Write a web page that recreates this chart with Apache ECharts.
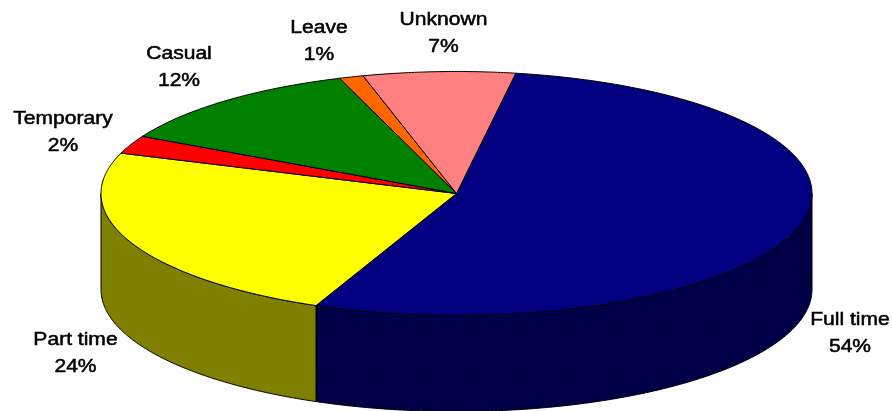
<!DOCTYPE html>
<html>
<head>
<meta charset="utf-8">
<style>html,body{margin:0;padding:0;background:#fff}#c{width:893px;height:411px}</style>
<script src="https://cdn.jsdelivr.net/npm/echarts@6/dist/echarts.min.js"></script>
</head>
<body>
<div id="c"></div>
<script>
// Data (clockwise from the Full time slice)
const categories = ['Full time', 'Part time', 'Temporary', 'Casual', 'Leave', 'Unknown'];
const shares = [53.8, 23.9, 2.4, 11.9, 1.1, 6.9];

// Styling
const topColors = ['#000080', '#FFFF00', '#FF0000', '#008000', '#FF6600', '#FF8080'];
const wallColors = ['navyMesh', '#808000', '#800000', '#004000', '#803300', '#804040'];
// Geometry of the tilted pie
const CX = 456.5, CY = 193.5, RX = 355.5, RY = 122, DEPTH = 96, START_DEG = 9.6;
// Label block centres, by category
const labelPos = {
  'Full time': [850, 333.5], 'Part time': [75.5, 353.5], 'Temporary': [63, 132.5],
  'Casual': [179, 67.5], 'Leave': [319, 42], 'Unknown': [443.5, 33.5]
};

const mesh = document.createElement('canvas');
mesh.width = 3; mesh.height = 3;
const m = mesh.getContext('2d');
m.fillStyle = '#00005c'; m.fillRect(0, 0, 3, 3);
m.fillStyle = '#000036'; m.fillRect(0, 2, 3, 1); m.fillRect(2, 0, 1, 3);
const navyMesh = { image: mesh, repeat: 'repeat' };

const total = shares.reduce((a, b) => a + b, 0);
const rad = d => d * Math.PI / 180;
const pt = (deg, dy) => [CX + RX * Math.sin(rad(deg)), CY - RY * Math.cos(rad(deg)) + (dy || 0)];
function arc(a, b, dy) {
  const out = [], n = Math.max(2, Math.ceil((b - a) * 2));
  for (let i = 0; i <= n; i++) out.push(pt(a + (b - a) * i / n, dy));
  return out;
}

function renderItem(params, api) {
  const i = params.dataIndex;
  const before = shares.slice(0, i).reduce((a, b) => a + b, 0);
  const a0 = START_DEG + before / total * 360;
  const a1 = a0 + api.value(0) / total * 360;
  const children = [];
  const w0 = Math.max(a0, 90), w1 = Math.min(a1, 270);
  if (w1 > w0) {
    const fill = wallColors[i] === 'navyMesh' ? navyMesh : wallColors[i];
    children.push({
      type: 'polygon', z2: 1,
      shape: { points: arc(w0, w1, 0).concat(arc(w0, w1, DEPTH).reverse()) },
      style: { fill: fill, stroke: '#000', lineWidth: 1 }
    });
  }
  children.push({
    type: 'polygon', z2: 2,
    shape: { points: [[CX, CY]].concat(arc(a0, a1, 0)) },
    style: { fill: topColors[i], stroke: '#000', lineWidth: 1, lineJoin: 'round' }
  });
  const name = categories[i], p = labelPos[name];
  children.push({
    type: 'text', z2: 3, x: p[0], y: p[1], scaleX: 1.17, scaleY: 1,
    style: {
      x: 0, y: 0,
      text: name + '\n' + Math.round(api.value(0)) + '%',
      align: 'center', verticalAlign: 'middle',
      font: '18px "Liberation Sans", Arial, sans-serif', lineHeight: 27,
      fill: '#000', stroke: '#000', lineWidth: 0.5
    }
  });
  return { type: 'group', children: children };
}

const chart = echarts.init(document.getElementById('c'), null, { renderer: 'canvas' });
chart.setOption({
  animation: false,
  backgroundColor: '#fff',
  series: [{
    type: 'custom',
    coordinateSystem: 'none',
    renderItem: renderItem,
    data: shares.map((v, i) => ({ name: categories[i], value: [v] }))
  }]
});
</script>
</body>
</html>
